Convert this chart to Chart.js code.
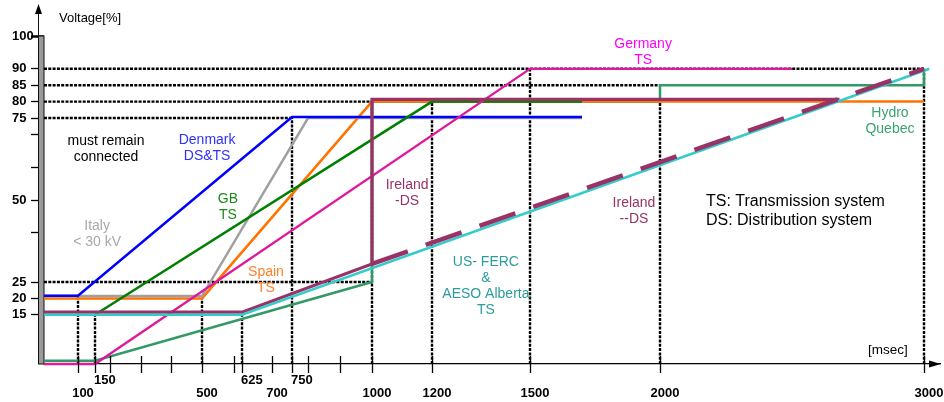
<!DOCTYPE html>
<html>
<head>
<meta charset="utf-8">
<script src="https://cdn.jsdelivr.net/npm/chart.js@4.4.1/dist/chart.umd.min.js"></script>
<style>
  html, body { margin: 0; background: #fff; }
  #wrap { width: 944px; height: 402px; position: relative; }
</style>
</head>
<body>
<div id="wrap"><canvas id="frt"></canvas></div>
<script>
// ---- data (time in msec, voltage in %) ----
const DENMARK   = [[0, 20.8], [100, 20.8], [750, 75.3], [1700, 75.3]];
const ITALY     = [[0, 20.7], [500, 20.7], [800, 75], [1700, 75]];
const GB        = [[150, 15], [1200, 80], [1700, 80]];
const SPAIN     = [[0, 20], [500, 20], [1000, 80], [3000, 80]];
const GERMANY   = [[0, 0], [150, 0], [1500, 90], [2500, 90]];
const IRELAND_DS  = [[0, 15.8], [625, 15.8], [1000, 30.5], [1000, 80.7], [2680, 80.7]];
const IRELAND_DDS = [[1000, 30.5], [3000, 90]];
const US_FERC   = [[0, 15], [625, 15], [3020, 90]];
const HYDRO_QC  = [[0, 1], [150, 1], [1000, 25], [1000, 80], [2000, 80], [2000, 85], [3000, 85], [3000, 90]];

// dotted reference lines
const H_GUIDES = [[90, 0, 3000], [85, 0, 2000], [80, 0, 1000], [75, 0, 750], [25, 0, 1000]]; // [y, from, to]
const V_GUIDES = [[100, 21], [150, 15], [500, 20], [625, 15.8], [750, 75], [1000, 80], [1200, 80], [1500, 90], [2000, 80], [3000, 90]]; // [x, up to]

// axes
const X_ROW1 = [150, 625, 750];
const X_ROW2 = [100, 500, 700, 1000, 1200, 1500, 2000, 3000];
const X_MARKS = [100, 150, 200, 300, 400, 500, 600, 625, 700, 750, 800, 900, 1000, 1200, 1500, 2000, 3000];
const Y_TICKS = [100, 90, 85, 80, 75, 70, 60, 50, 40, 25, 20, 15];
const Y_LABELS = [100, 90, 85, 80, 75, 50, 25, 20, 15];

// the time axis of the original is hand drawn, not uniform: msec -> axis units
const X_WARP = [[0, 0], [100, 34], [150, 51], [500, 158], [625, 198], [750, 248], [1000, 328],
                [1200, 388], [1500, 486], [2000, 616], [3000, 880], [3060, 896]];

function warp(v) {
  const k = X_WARP;
  for (let i = 1; i < k.length; i++) {
    if (v <= k[i][0] || i === k.length - 1) {
      const [a, ua] = k[i - 1], [b, ub] = k[i];
      return ua + (v - a) * (ub - ua) / (b - a);
    }
  }
}
function unwarp(u) {
  const k = X_WARP;
  for (let i = 1; i < k.length; i++) {
    if (u <= k[i][1] || i === k.length - 1) {
      const [a, ua] = k[i - 1], [b, ub] = k[i];
      return a + (u - ua) * (b - a) / (ub - ua);
    }
  }
}

class WarpScale extends Chart.LinearScale {
  getPixelForValue(v) {
    if (v === null || v === undefined || isNaN(v)) return NaN;
    const u0 = warp(this.min), u1 = warp(this.max);
    return this.getPixelForDecimal((warp(v) - u0) / (u1 - u0));
  }
  getValueForPixel(p) {
    const u0 = warp(this.min), u1 = warp(this.max);
    return unwarp(u0 + this.getDecimalForPixel(p) * (u1 - u0));
  }
}
WarpScale.id = 'warp';
WarpScale.defaults = Chart.LinearScale.defaults;
Chart.register(WarpScale);

// text notes, anchored in data units
const NOTES = [
  { t: ['Voltage[%]'], x: 44, y: 105.5, c: '#000', align: 'left', size: 13 },
  { t: ['must remain', 'connected'], x: 186, y: 67.8, c: '#000' },
  { t: ['Denmark', 'DS&TS'], x: 516, y: 68.1, c: '#3030ff' },
  { t: ['GB', 'TS'], x: 581, y: 50.3, c: '#1a8c1a' },
  { t: ['Italy', '< 30 kV'], x: 157, y: 41.9, c: '#a8a8a8' },
  { t: ['Spain', 'TS'], x: 685, y: 28, c: '#ff7f27' },
  { t: ['Ireland', '-DS'], x: 1117, y: 54.6, c: '#993366' },
  { t: ['US- FERC', '&', 'AESO Alberta', 'TS'], x: 1365, y: 31.1, c: '#2b9c9c' },
  { t: ['Ireland', '--DS'], x: 1900, y: 49.1, c: '#993366' },
  { t: ['Germany', 'TS'], x: 1935, y: 97.6, c: '#ff00ff' },
  { t: ['Hydro', 'Quebec'], x: 2871, y: 76.5, c: '#3aa36f' },
  { t: ['TS: Transmission system', 'DS: Distribution system'], x: 2174, y: 49.4, c: '#000', size: 16, lh: 19, align: 'left' },
  { t: ['[msec]'], x: 2788, y: 4.3, c: '#000', align: 'left', size: 13.5 }
];

const FONT = "'Liberation Sans', Arial, sans-serif";

function series(label, pts, color, width, order, dash) {
  return {
    label, order,
    data: pts.map(([x, y]) => ({ x, y })),
    borderColor: color, borderWidth: width, borderDash: dash || [],
    borderCapStyle: 'butt', borderJoinStyle: 'miter',
    pointRadius: 0, fill: false, tension: 0, clip: false, spanGaps: false
  };
}

function guidePoints() {
  const pts = [];
  H_GUIDES.forEach(([y, a, b]) => { pts.push({ x: a, y }, { x: b, y }, { x: b, y: null }); });
  V_GUIDES.forEach(([x, top]) => { pts.push({ x, y: 0 }, { x, y: top }, { x, y: null }); });
  return pts;
}

const guides = series('guides', [], '#000', 2.4, 20, [3, 1.3]);
guides.data = guidePoints();

const frame = {
  id: 'frame',
  beforeDatasetsDraw(chart) {
    const { ctx, chartArea: a, scales: { y } } = chart;
    ctx.save();
    // grey voltage bar
    ctx.fillStyle = '#9a9a9a';
    ctx.strokeStyle = '#111';
    ctx.lineWidth = 1;
    const top = y.getPixelForValue(100), bot = y.getPixelForValue(0);
    ctx.fillRect(a.left - 6, top, 6, bot - top);
    ctx.strokeRect(a.left - 6 + 0.5, top, 5.5, bot - top);
    // y arrow
    ctx.beginPath();
    ctx.moveTo(a.left - 6 + 0.5, top);
    ctx.lineTo(a.left - 6 + 0.5, 12);
    ctx.stroke();
    ctx.fillStyle = '#000';
    ctx.beginPath();
    ctx.moveTo(a.left - 5.5, 4);
    ctx.lineTo(a.left - 9, 14);
    ctx.lineTo(a.left - 2, 14);
    ctx.closePath();
    ctx.fill();
    // x arrow
    ctx.beginPath();
    ctx.moveTo(a.right + 1, bot);
    ctx.lineTo(a.right - 11, bot - 3.5);
    ctx.lineTo(a.right - 11, bot + 3.5);
    ctx.closePath();
    ctx.fill();
    ctx.restore();
  },
  afterDraw(chart) {
    const { ctx, chartArea: a, scales: { x, y } } = chart;
    ctx.save();
    ctx.strokeStyle = '#000';
    ctx.lineWidth = 1.3;
    X_MARKS.forEach(v => {
      const px = Math.round(x.getPixelForValue(v)) + 0.5;
      ctx.beginPath();
      ctx.moveTo(px, a.bottom - 8);
      ctx.lineTo(px, a.bottom + 9);
      ctx.stroke();
    });
    ctx.textBaseline = 'middle';
    NOTES.forEach(n => {
      const size = n.size || 14, lh = n.lh || 16;
      ctx.font = size + 'px ' + FONT;
      ctx.fillStyle = n.c;
      ctx.textAlign = n.align || 'center';
      const px = x.getPixelForValue(n.x), py = y.getPixelForValue(n.y);
      n.t.forEach((line, i) => ctx.fillText(line, px, py + i * lh));
    });
    ctx.restore();
  }
};

const tickFont = { family: FONT, size: 13, weight: 'bold', lineHeight: 1 };

new Chart(document.getElementById('frt'), {
  type: 'line',
  data: {
    datasets: [
      series('Ireland --DS', IRELAND_DDS, '#993366', 4.5, 0, [38, 19]),
      series('US-FERC & AESO Alberta TS', US_FERC, '#33cccc', 2.5, 1),
      series('Ireland -DS', IRELAND_DS, '#993366', 3.3, 2),
      series('Germany TS', GERMANY, '#e0189b', 2.3, 3),
      series('GB TS', GB, '#008000', 2.5, 4),
      series('Italy < 30 kV', ITALY, '#a0a0a0', 2.5, 6),
      series('Denmark DS&TS', DENMARK, '#0000ff', 2.5, 5),
      series('Spain TS', SPAIN, '#ff7300', 2.5, 7),
      series('Hydro Quebec', HYDRO_QC, '#339966', 2.5, 8),
      guides
    ]
  },
  options: {
    responsive: true,
    maintainAspectRatio: false,
    animation: false,
    events: [],
    layout: { padding: { left: 12, top: 36, right: 4, bottom: 0 } },
    plugins: { legend: { display: false }, tooltip: { enabled: false } },
    scales: {
      x: {
        type: 'warp', position: 'bottom', min: 0, max: 3060, weight: 0,
        grid: { display: false, drawTicks: false },
        border: { display: true, color: '#000', width: 1.3 },
        ticks: {
          align: 'start', padding: 9.5, font: tickFont, color: '#000', autoSkip: false, maxRotation: 0, labelOffset: -1,
          callback: v => String(v)
        },
        afterBuildTicks: s => { s.ticks = X_ROW1.map(v => ({ value: v })); },
        afterFit: s => { s.height = 22.5; s.paddingLeft = 0; s.paddingRight = 0; }
      },
      x2: {
        type: 'warp', position: 'bottom', min: 0, max: 3060, weight: 1,
        grid: { display: false, drawTicks: false },
        border: { display: false },
        ticks: {
          padding: 0, font: tickFont, color: '#000', autoSkip: false, maxRotation: 0, labelOffset: 5,
          callback: v => String(v)
        },
        afterBuildTicks: s => { s.ticks = X_ROW2.map(v => ({ value: v })); },
        afterFit: s => { s.height = 15.5; s.paddingLeft = 0; s.paddingRight = 0; }
      },
      y: {
        type: 'linear', min: 0, max: 100,
        grid: {
          display: true, drawOnChartArea: false, drawTicks: true, tickLength: 13, color: '#000',
          tickColor: '#000', tickWidth: c => (c.tick && c.tick.value === 100 ? 2.5 : 1.3)
        },
        border: { display: false },
        ticks: {
          crossAlign: 'far', font: tickFont, color: '#000', autoSkip: false,
          callback: v => (Y_LABELS.includes(v) ? String(v) : '')
        },
        afterBuildTicks: s => { s.ticks = Y_TICKS.map(v => ({ value: v })); },
        afterFit: s => { s.width = 32; s.paddingTop = 0; s.paddingBottom = 0; }
      }
    }
  },
  plugins: [frame]
});
</script>
</body>
</html>
